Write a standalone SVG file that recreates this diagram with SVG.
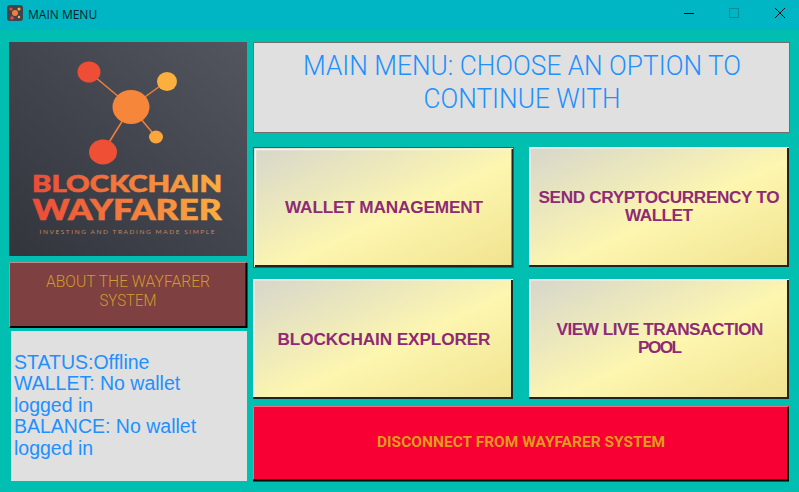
<svg xmlns="http://www.w3.org/2000/svg" width="799" height="492" viewBox="0 0 799 492">
<style>
.hd{font-family:"Roboto","Liberation Sans",sans-serif;font-size:27px;font-weight:300;fill:#2090ff;text-anchor:middle}
.ab{font-family:"Roboto","Liberation Sans",sans-serif;font-size:16px;font-weight:300;fill:#d09c2c;text-anchor:middle}
.st{font-family:"Liberation Sans",sans-serif;font-size:19.500px;fill:#2090ff}
.bt{font-family:"Liberation Sans",sans-serif;font-size:17.200px;font-weight:700;fill:#8f2a74;text-anchor:middle}
.dc{font-family:"Roboto","Liberation Sans",sans-serif;font-size:15px;font-weight:700;fill:#e39a1e;text-anchor:middle}
.ln{stroke:#f0803a;stroke-width:1.500}
.btn{fill:url(#bg)}
.hi{fill:none;stroke:#f2f2f2;stroke-width:1.500}
.lo{fill:none;stroke:#222222;stroke-width:2}
.out{fill:none;stroke:#8f2a74;stroke-width:1}
</style>
<defs>
<linearGradient id="bg" x1="0" y1="0" x2="1" y2="1"><stop offset="0" stop-color="#d6d6cc"/><stop offset=".55" stop-color="#fdf6b0"/><stop offset="1" stop-color="#f0e28e"/></linearGradient>
<linearGradient id="lg" x1="1" y1="0" x2="0" y2="1"><stop offset="0" stop-color="#53555f"/><stop offset="1" stop-color="#33353d"/></linearGradient>
<linearGradient id="og" gradientUnits="userSpaceOnUse" x1="30" y1="0" x2="225" y2="0"><stop offset="0" stop-color="#ec4a38"/><stop offset="1" stop-color="#fbb040"/></linearGradient>
</defs>
<rect width="799" height="492" fill="#00bfb0"/>
<g id="titlebar">
<rect width="799" height="30" fill="#00b6c4"/>
<rect x="7" y="5" width="16" height="16" rx="3" fill="#40424c"/>
<circle cx="15" cy="13" r="3" fill="#f0803a"/><circle cx="11" cy="9" r="1.600" fill="#ec4a38"/><circle cx="19" cy="9" r="1.500" fill="#fbb040"/><circle cx="12" cy="18" r="1.800" fill="#ec4a38"/><circle cx="19" cy="17" r="1.200" fill="#fbb040"/>
<text x="28" y="18.500" font-family="'Open Sans','Liberation Sans',sans-serif" font-size="12" fill="#00222a">MAIN MENU</text>
<path d="M684 13.500H694" stroke="#000" fill="none"/>
<rect x="729.500" y="8.500" width="9" height="9" fill="none" stroke="#0a8c98"/>
<path d="M775 8L785 18M785 8L775 18" stroke="#000" fill="none"/>
</g>
<g id="logo">
<rect x="9" y="42" width="238" height="214" fill="url(#lg)"/>
<path class="ln" d="M89 72L131 107M167 81L131 107M156 137L131 107M103 152L131 107"/>
<ellipse cx="89" cy="72" rx="11.500" ry="10.500" fill="#ee4d36"/>
<ellipse cx="167" cy="81.500" rx="10" ry="9.500" fill="#fbaf3f"/>
<ellipse cx="131" cy="107" rx="18.500" ry="17" fill="#f6873a"/>
<ellipse cx="156" cy="137" rx="7" ry="6.500" fill="#f9a63c"/>
<ellipse cx="103" cy="152" rx="14" ry="12.500" fill="#ef5035"/>
<text x="127" y="192" font-family="Lato,'Liberation Sans',sans-serif" font-size="22" font-weight="900" fill="url(#og)" stroke="url(#og)" stroke-width=".6" text-anchor="middle" textLength="190" lengthAdjust="spacingAndGlyphs">BLOCKCHAIN</text>
<text x="127" y="220" font-family="Lato,'Liberation Sans',sans-serif" font-size="29" font-weight="900" fill="url(#og)" stroke="url(#og)" stroke-width=".6" text-anchor="middle" textLength="189" lengthAdjust="spacingAndGlyphs">WAYFARER</text>
<text x="127" y="234" font-family="Lato,'Liberation Sans',sans-serif" font-size="6.500" fill="#c08560" text-anchor="middle" textLength="175">INVESTING AND TRADING MADE SIMPLE</text>
</g>
<g id="about">
<rect x="9" y="262" width="238" height="66" fill="#7e4040"/>
<path d="M9.500 327V262.500H246" fill="none" stroke="#b89090"/>
<path d="M246.500 263V327H10" fill="none" stroke="#000" stroke-width="2"/>
<text class="ab" x="128" y="287" textLength="164" lengthAdjust="spacingAndGlyphs">ABOUT THE WAYFARER</text>
<text class="ab" x="128" y="306" textLength="57" lengthAdjust="spacingAndGlyphs">SYSTEM</text>
</g>
<g id="status">
<rect x="11" y="331" width="236" height="150" fill="#e0e0e0"/>
<text class="st" x="14" y="369">STATUS:Offline</text>
<text class="st" x="14" y="390">WALLET: No wallet</text>
<text class="st" x="14" y="412">logged in</text>
<text class="st" x="14" y="433">BALANCE: No wallet</text>
<text class="st" x="14" y="455">logged in</text>
</g>
<g id="header">
<rect x="253.500" y="42.500" width="536" height="90" fill="#e0e0e0" stroke="#707070"/>
<text class="hd" x="522" y="75" textLength="438" lengthAdjust="spacingAndGlyphs">MAIN MENU: CHOOSE AN OPTION TO</text>
<text class="hd" x="522" y="108" textLength="197" lengthAdjust="spacingAndGlyphs">CONTINUE WITH</text>
</g>
<g id="wallet">
<rect class="btn" x="253" y="147" width="261" height="121"/>
<path class="hi" d="M255.500 265V149.500H512"/><path class="lo" d="M512.500 149V266H255"/>
<rect class="out" x="253.500" y="147.500" width="260" height="120"/>
<text class="bt" x="384" y="213" textLength="198" lengthAdjust="spacing">WALLET MANAGEMENT</text>
</g>
<g id="send">
<rect class="btn" x="529" y="147" width="260" height="120"/>
<path class="hi" d="M529.800 266V147.800H788"/><path class="lo" d="M788 148V266H529"/>
<text class="bt" x="659" y="203" textLength="241" lengthAdjust="spacing">SEND CRYPTOCURRENCY TO</text>
<text class="bt" x="659" y="221" textLength="68" lengthAdjust="spacing">WALLET</text>
</g>
<g id="explorer">
<rect class="btn" x="253" y="279" width="260" height="120"/>
<path class="hi" d="M253.800 398V279.800H512"/><path class="lo" d="M512 280V398H253"/>
<text class="bt" x="384" y="345" textLength="213" lengthAdjust="spacing">BLOCKCHAIN EXPLORER</text>
</g>
<g id="pool">
<rect class="btn" x="529" y="279" width="260" height="120"/>
<path class="hi" d="M529.800 398V279.800H788"/><path class="lo" d="M788 280V398H529"/>
<text class="bt" x="660" y="335" textLength="207" lengthAdjust="spacing">VIEW LIVE TRANSACTION</text>
<text class="bt" x="660" y="353" textLength="44" lengthAdjust="spacing">POOL</text>
</g>
<g id="disconnect">
<rect x="253" y="406" width="536" height="75" fill="#f80033"/>
<path d="M253.500 480V406.500H788" fill="none" stroke="#ff6a80"/>
<path d="M788 407V480.500H253" fill="none" stroke="#000" stroke-width="2"/>
<text class="dc" x="521" y="447" textLength="288" lengthAdjust="spacingAndGlyphs">DISCONNECT FROM WAYFARER SYSTEM</text>
</g>
<g id="connectors"/>
</svg>
